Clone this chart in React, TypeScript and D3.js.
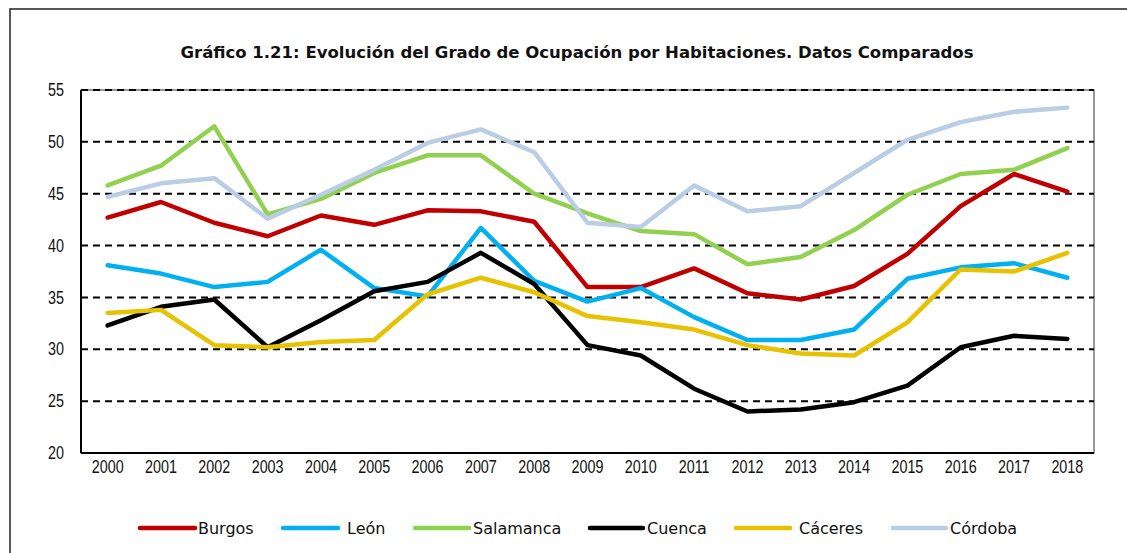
import React from "react";
import * as d3 from "d3";

const years = ["2000","2001","2002","2003","2004","2005","2006","2007","2008","2009","2010","2011","2012","2013","2014","2015","2016","2017","2018"];
const burgos = [42.7,44.2,42.2,40.9,42.9,42.0,43.4,43.3,42.3,36.0,36.0,37.8,35.4,34.8,36.1,39.2,43.8,46.9,45.2];
const leon = [38.1,37.3,36.0,36.5,39.6,35.9,35.1,41.7,36.6,34.6,35.9,33.1,30.9,30.9,31.9,36.8,37.9,38.3,36.9];
const salamanca = [45.8,47.7,51.5,43.0,44.5,47.0,48.7,48.7,45.0,43.1,41.4,41.1,38.2,38.9,41.5,44.9,46.9,47.3,49.4];
const cuenca = [32.3,34.1,34.8,30.2,32.8,35.6,36.5,39.3,36.3,30.4,29.4,26.2,24.0,24.2,24.9,26.5,30.2,31.3,31.0];
const caceres = [33.5,33.8,30.4,30.2,30.7,30.9,35.3,36.9,35.5,33.2,32.6,31.9,30.4,29.6,29.4,32.6,37.7,37.5,39.3];
const cordoba = [44.7,46.0,46.5,42.6,44.9,47.3,49.9,51.2,49.0,42.2,41.8,45.8,43.3,43.8,47.0,50.2,51.9,52.9,53.3];
const yTicks = [20,25,30,35,40,45,50,55];

const seriesNames = ["Burgos","León","Salamanca","Cuenca","Cáceres","Córdoba"];
const seriesValues = [burgos, leon, salamanca, cuenca, caceres, cordoba];
const seriesColors = ["#C00000","#00B0F0","#92D050","#000000","#E6C200","#B9CDE5"];
const title = "Gráfico 1.21: Evolución del Grado de Ocupación por Habitaciones. Datos Comparados";

const W = 1127, H = 553;
const plot = { left: 81, right: 1094, top: 90, bottom: 453 };
const legendPos = [
  { x1: 140, x2: 195, tx: 198 },
  { x1: 283, x2: 338, tx: 347 },
  { x1: 415, x2: 469, tx: 473 },
  { x1: 590, x2: 643, tx: 647 },
  { x1: 736, x2: 790, tx: 799 },
  { x1: 893, x2: 946, tx: 950 },
];

export default function App() {
  const x = d3.scaleBand().domain(years).range([plot.left, plot.right]);
  const y = d3.scaleLinear().domain([20, 55]).range([plot.bottom, plot.top]);
  const line = d3.line<number>()
    .x((_, i) => (x(years[i]) as number) + x.bandwidth() / 2)
    .y((d) => y(d));
  const tickFont = "'Liberation Sans', Arial, sans-serif";
  return (
    <svg width={W} height={H} style={{ position: "absolute", left: 0, top: 0, background: "#fff" }}>
      <rect x={10} y={9} width={1130} height={560} fill="#fff" stroke="#222" strokeWidth={1.5} />
      <text x={577} y={58} textAnchor="middle" fontFamily="'DejaVu Sans', sans-serif" fontWeight="bold" fontSize={16.5} fill="#111">{title}</text>
      <rect x={plot.left} y={plot.top} width={plot.right - plot.left} height={plot.bottom - plot.top} fill="none" stroke="#333" strokeWidth={1} />
      {yTicks.filter((t) => t > 20).map((t) => (
        <line key={t} x1={plot.left} x2={plot.right} y1={y(t)} y2={y(t)} stroke="#000" strokeWidth={2} strokeDasharray="7,5" />
      ))}
      <line x1={plot.left} x2={plot.left} y1={plot.top} y2={plot.bottom} stroke="#000" strokeWidth={2} />
      <line x1={plot.left} x2={plot.right} y1={plot.bottom} y2={plot.bottom} stroke="#000" strokeWidth={2} />
      {yTicks.map((t) => (
        <text key={t} transform={`translate(64,${y(t)}) scale(0.82,1)`} dy="0.35em" textAnchor="end" fontFamily={tickFont} fontSize={17.5} fill="#111">{t}</text>
      ))}
      {years.map((yr) => (
        <text key={yr} transform={`translate(${(x(yr) as number) + x.bandwidth() / 2},473) scale(0.82,1)`} textAnchor="middle" fontFamily={tickFont} fontSize={17.5} fill="#111">{yr}</text>
      ))}
      {seriesValues.map((vals, i) => (
        <path key={seriesNames[i]} d={line(vals) || ""} fill="none" stroke={seriesColors[i]} strokeWidth={4.5} strokeLinejoin="round" strokeLinecap="round" />
      ))}
      {seriesNames.map((n, i) => (
        <g key={n}>
          <line x1={legendPos[i].x1} x2={legendPos[i].x2} y1={528} y2={528} stroke={seriesColors[i]} strokeWidth={4.5} strokeLinecap="round" />
          <text x={legendPos[i].tx} y={528} dy="0.36em" fontFamily="'DejaVu Sans', sans-serif" fontSize={16} fill="#111">{n}</text>
        </g>
      ))}
    </svg>
  );
}
